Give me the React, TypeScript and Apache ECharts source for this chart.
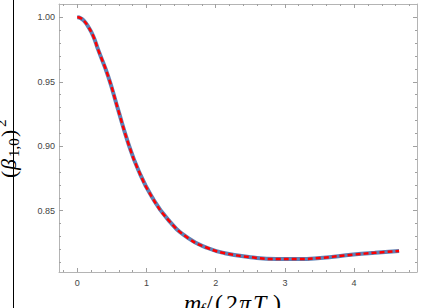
import React, { useEffect, useRef } from "react";
import * as echarts from "echarts";

const xValues = [0, 0.05, 0.1, 0.159, 0.23, 0.303, 0.448, 0.592, 0.737, 0.882, 1.075, 1.315, 1.604, 1.893, 2.134, 2.5, 2.88, 3.2, 3.51, 3.99, 4.3, 4.65];
const yValues = [1.0, 0.9993, 0.9971, 0.9927, 0.9855, 0.9747, 0.954, 0.928, 0.9023, 0.8816, 0.861, 0.8429, 0.8287, 0.8209, 0.8171, 0.814, 0.8125, 0.8125, 0.8134, 0.816, 0.8174, 0.8188];

const xMajorTicks = [0, 1, 2, 3, 4];
const yMajorTicks = [0.85, 0.9, 0.95, 1.0];
const yTickLabels = ["0.85", "0.90", "0.95", "1.00"];

const X_MIN = -0.264;
const X_MAX = 4.909;
const Y_MIN = 0.8025;
const Y_MAX = 1.0103;

function minorValues(start: number, end: number, step: number, majors: number[]) {
  const out: number[] = [];
  const n = Math.round((end - start) / step);
  for (let i = 0; i <= n; i++) {
    const v = +(start + i * step).toFixed(4);
    if (!majors.some((m) => Math.abs(m - v) < 1e-6)) out.push(v);
  }
  return out;
}

const xMinorTicks = minorValues(-0.2, 4.8, 0.2, xMajorTicks);
const yMinorTicks = minorValues(0.81, 1.0, 0.01, yMajorTicks);

const FRAME = "#b4b4b4";
const TICK = "#a0a0a0";

export default function App() {
  const ref = useRef<HTMLDivElement>(null);
  useEffect(() => {
    if (!ref.current) return;
    const chart = echarts.init(ref.current, null, { renderer: "svg" });
    const data = xValues.map((x, i) => [x, yValues[i]]);

    const mkX = (pos: "bottom" | "top", ticks: number[], len: number, labels: boolean, line: boolean) => ({
      type: "value",
      position: pos,
      min: X_MIN,
      max: X_MAX,
      splitLine: { show: false },
      axisLine: { show: line, onZero: false, lineStyle: { color: FRAME, width: 1 } },
      axisTick: { show: true, inside: true, length: len, customValues: ticks, lineStyle: { color: TICK, width: 1 } },
      axisLabel: labels
        ? { show: true, customValues: ticks, margin: 6, fontSize: 9, color: "#444", fontFamily: "Liberation Sans", formatter: (v: number) => String(v) }
        : { show: false },
    });
    const mkY = (pos: "left" | "right", ticks: number[], len: number, labels: boolean, line: boolean) => ({
      type: "value",
      position: pos,
      min: Y_MIN,
      max: Y_MAX,
      splitLine: { show: false },
      axisLine: { show: line, onZero: false, lineStyle: { color: FRAME, width: 1 } },
      axisTick: { show: true, inside: true, length: len, customValues: ticks, lineStyle: { color: TICK, width: 1 } },
      axisLabel: labels
        ? {
            show: true,
            customValues: ticks,
            margin: 4,
            fontSize: 9,
            color: "#444",
            fontFamily: "Liberation Sans",
            formatter: (v: number) => {
              const i = yMajorTicks.findIndex((m) => Math.abs(m - v) < 1e-6);
              return i >= 0 ? yTickLabels[i] : "";
            },
          }
        : { show: false },
    });

    const serif = "Liberation Serif";
    const t = (text: string, x: number, y: number, font: string) => ({
      type: "text",
      x,
      y,
      style: { text, font, fill: "#000", verticalAlign: "top", align: "left" },
    });
    chart.setOption({
      animation: false,
      backgroundColor: "#ffffff",
      grid: { left: 59, right: 4, top: 4, bottom: 36, containLabel: false },
      xAxis: [
        mkX("bottom", xMajorTicks, 4, true, true),
        mkX("bottom", xMinorTicks, 2, false, false),
        mkX("top", xMajorTicks, 4, false, true),
        mkX("top", xMinorTicks, 2, false, false),
      ],
      yAxis: [
        mkY("left", yMajorTicks, 4, true, true),
        mkY("left", yMinorTicks, 2, false, false),
        mkY("right", yMajorTicks, 4, false, true),
        mkY("right", yMinorTicks, 2, false, false),
      ],
      series: [
        {
          type: "line",
          data,
          smooth: 0.5,
          showSymbol: false,
          lineStyle: { color: "#5E81B5", width: 4 },
          xAxisIndex: 0,
          yAxisIndex: 0,
        },
        {
          type: "line",
          data,
          smooth: 0.5,
          showSymbol: false,
          lineStyle: { color: "#ff0000", width: 2.5, type: [5, 3] },
          xAxisIndex: 0,
          yAxisIndex: 0,
        },
      ],
      graphic: [
        {
          type: "group",
          x: -3,
          y: 180,
          rotation: Math.PI / 2,
          children: [
            t("(", 2, 0, `22px ${serif}`),
            t("β", 10, 0, `italic 22px ${serif}`),
            t("1,0", 23, 9.6, `15px ${serif}`),
            t(")", 43, 0, `22px ${serif}`),
            t("2", 53, -3.4, `15px ${serif}`),
          ],
        },
        {
          type: "group",
          x: 0,
          y: 291,
          children: [
            t("m", 184, 0, `italic 24px ${serif}`),
            t("f", 200, 10, `italic 16px ${serif}`),
            t("/", 206, 0, `24px ${serif}`),
            t("(", 215, 0, `24px ${serif}`),
            t("2", 226, 0, `24px ${serif}`),
            t("π", 239, 0, `italic 24px ${serif}`),
            t("T", 253, 0, `italic 24px ${serif}`),
            t(")", 273, 0, `24px ${serif}`),
          ],
        },
        {
          type: "line",
          shape: { x1: 13.5, y1: 0, x2: 13.5, y2: 308 },
          style: { stroke: "#000", lineWidth: 1 },
          z: 100,
        },
      ],
    });
    return () => chart.dispose();
  }, []);
  return <div ref={ref} style={{ position: "fixed", left: 0, top: 0, width: 421, height: 308 }} />;
}
